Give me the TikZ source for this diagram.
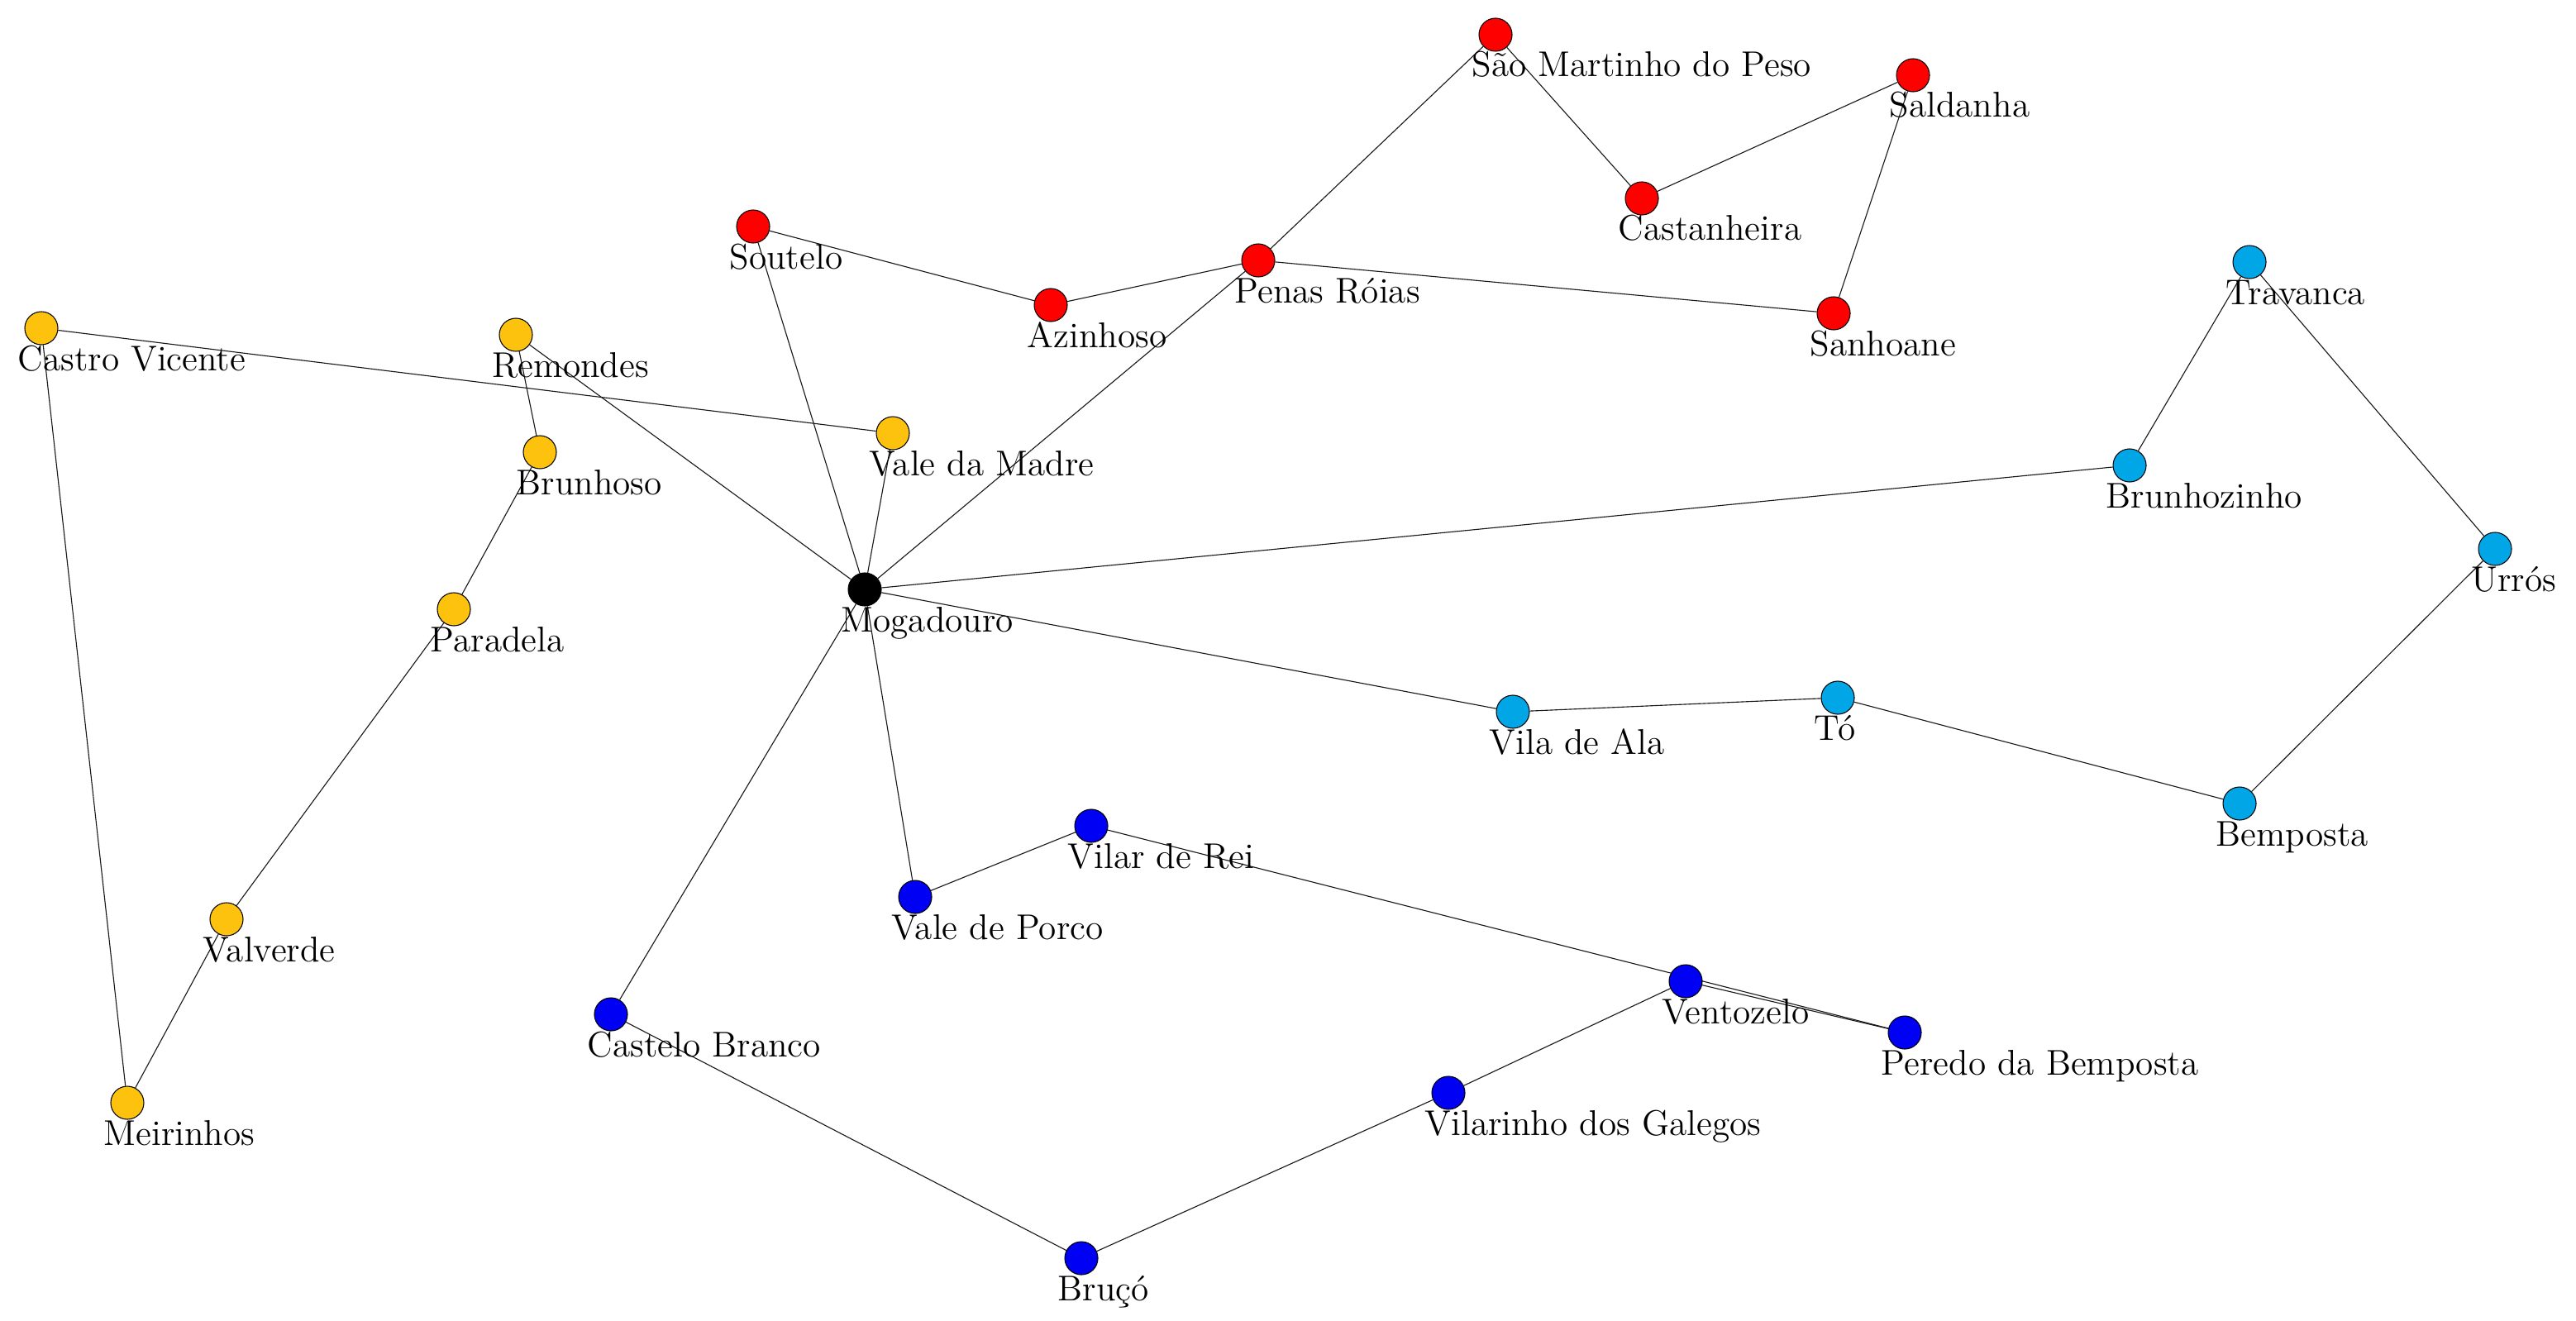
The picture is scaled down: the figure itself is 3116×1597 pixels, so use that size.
\documentclass[tikz,border=0pt]{standalone}
\usetikzlibrary{calc}
\pgfdeclarelayer{bg}
\pgfsetlayers{bg,main}
\definecolor{cred}{RGB}{255,0,0}
\definecolor{cyel}{RGB}{252,194,14}
\definecolor{clblue}{RGB}{0,166,230}
\definecolor{cblue}{RGB}{0,0,245}
\definecolor{cblack}{RGB}{0,0,0}
\tikzset{
  vert/.style={circle,draw=black,line width=0.3pt,minimum size=0.4cm,inner sep=0pt},
  lbl/.style={anchor=base west,inner sep=0pt,font=\fontsize{12.3}{14}\selectfont},
  edge/.style={draw=black!90,line width=0.32pt}
}
\newcommand{\vtx}[5]{%
  \node[vert,fill=#4] (#1) at (#2,#3) {};
  \node[lbl] (#1-l) at ($(#1)+(-29,51)$) {#5};}
\begin{document}
\begin{tikzpicture}[x=0.01cm,y=-0.01cm]
\useasboundingbox (0,0) rectangle (3116,1597);
% red
\vtx{smp}{1809}{42}{cred}{São Martinho do Peso}
\vtx{sal}{2314}{91}{cred}{Saldanha}
\vtx{cas}{1986}{240}{cred}{Castanheira}
\vtx{sou}{911}{274}{cred}{Soutelo}
\vtx{pen}{1522}{315}{cred}{Penas Róias}
\vtx{azi}{1271}{369}{cred}{Azinhoso}
\vtx{san}{2218}{379}{cred}{Sanhoane}
% yellow
\vtx{cvi}{50}{397}{cyel}{Castro Vicente}
\vtx{rem}{624}{405}{cyel}{Remondes}
\vtx{bru}{653}{547}{cyel}{Brunhoso}
\vtx{vma}{1080}{524}{cyel}{Vale da Madre}
\vtx{par}{549}{737}{cyel}{Paradela}
\vtx{val}{274}{1112}{cyel}{Valverde}
\vtx{mei}{154}{1334}{cyel}{Meirinhos}
% black
\vtx{mog}{1046}{713}{cblack}{Mogadouro}
% light blue
\vtx{tra}{2721}{317}{clblue}{Travanca}
\vtx{brz}{2576}{563}{clblue}{Brunhozinho}
\vtx{urr}{3018}{664}{clblue}{Urrós}
\vtx{vil}{1830}{861}{clblue}{Vila de Ala}
\vtx{to}{2223}{844}{clblue}{Tó}
\vtx{bem}{2709}{972}{clblue}{Bemposta}
% blue
\vtx{vre}{1320}{999}{cblue}{Vilar de Rei}
\vtx{vpo}{1107}{1085}{cblue}{Vale de Porco}
\vtx{cbr}{739}{1227}{cblue}{Castelo Branco}
\vtx{ven}{2039}{1187}{cblue}{Ventozelo}
\vtx{per}{2304}{1249}{cblue}{Peredo da Bemposta}
\vtx{vga}{1752}{1322}{cblue}{Vilarinho dos Galegos}
\vtx{brc}{1308}{1522}{cblue}{Bruçó}
\begin{pgfonlayer}{bg}
\draw[edge] (smp) -- (pen);
\draw[edge] (smp) -- (cas);
\draw[edge] (cas) -- (sal);
\draw[edge] (sal) -- (san);
\draw[edge] (pen) -- (san);
\draw[edge] (pen) -- (azi);
\draw[edge] (azi) -- (sou);
\draw[edge] (pen) -- (mog);
\draw[edge] (sou) -- (mog);
\draw[edge] (cvi) -- (vma);
\draw[edge] (cvi) -- (mei);
\draw[edge] (rem) -- (mog);
\draw[edge] (rem) -- (bru);
\draw[edge] (bru) -- (par);
\draw[edge] (par) -- (val);
\draw[edge] (val) -- (mei);
\draw[edge] (vma) -- (mog);
\draw[edge] (mog) -- (brz);
\draw[edge] (brz) -- (tra);
\draw[edge] (tra) -- (urr);
\draw[edge] (urr) -- (bem);
\draw[edge] (bem) -- (to);
\draw[edge] (to) -- (vil);
\draw[edge] (vil) -- (mog);
\draw[edge] (mog) -- (vpo);
\draw[edge] (vpo) -- (vre);
\draw[edge] (vre) -- (per);
\draw[edge] (per) -- (ven);
\draw[edge] (ven) -- (vga);
\draw[edge] (vga) -- (brc);
\draw[edge] (brc) -- (cbr);
\draw[edge] (cbr) -- (mog);
\end{pgfonlayer}
\end{tikzpicture}
\end{document}
